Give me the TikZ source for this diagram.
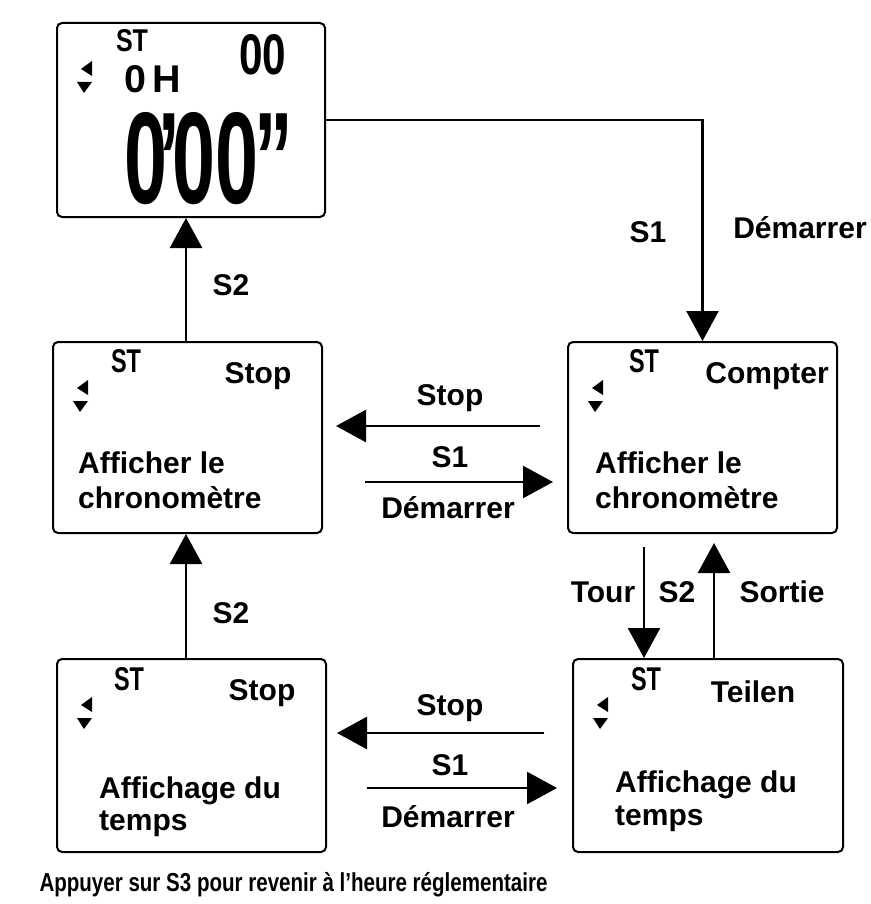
\documentclass[tikz,border=0pt]{standalone}
\usepackage{fontspec}
\setmainfont{Liberation Sans}
\usetikzlibrary{arrows.meta,calc}
\newcommand\lbfont{\fontsize{30}{34}\selectfont\bfseries}
\newcommand\drawicon[1]{%
  \fill ($(#1.north west)+(25,47)$) -- ++(11,-8) -- ++(0,15) -- cycle;
  \fill ($(#1.north west)+(21,60)$) -- ++(15,0) -- ++(-8,11) -- cycle;}
\tikzset{
  box/.style={draw, line width=2pt, rounded corners=5pt, inner sep=0pt},
  lbl/.style={font=\lbfont, inner sep=0pt, anchor=base},
  txt/.style={font=\lbfont, inner sep=0pt, anchor=base west},
  arr/.style={line width=2.5pt, -{Triangle[width=32pt,length=30pt]}},
  stsym/.style={inner sep=0pt, font=\bfseries},
}
\begin{document}
\begin{tikzpicture}[x=1pt,y=-1pt]
\useasboundingbox (0,0) rectangle (870,904);
% boxes
\node[box, minimum width=268pt, minimum height=194pt] (top) at (191,120) {};
\node[box, minimum width=269pt, minimum height=191pt] (ml) at (187.5,437.5) {};
\node[box, minimum width=269pt, minimum height=191pt] (mr) at (702.5,437.5) {};
\node[box, minimum width=269pt, minimum height=193pt] (bl) at (191.5,755.5) {};
\node[box, minimum width=270pt, minimum height=193pt] (br) at (708,755.5) {};
% icons
\drawicon{top}\drawicon{ml}\drawicon{mr}\drawicon{bl}\drawicon{br}
% ST symbols
\node[stsym] (st0) at ($(top.north west)+(76,19)$) {\resizebox{32pt}{22pt}{ST}};
\node[stsym] (st1) at ($(ml.north west)+(74,20)$) {\resizebox{30pt}{23pt}{ST}};
\node[stsym] (st2) at ($(mr.north west)+(77,20)$) {\resizebox{30pt}{23pt}{ST}};
\node[stsym] (st3) at ($(bl.north west)+(73,21)$) {\resizebox{30pt}{23pt}{ST}};
\node[stsym] (st4) at ($(br.north west)+(74,21)$) {\resizebox{30pt}{23pt}{ST}};
% top display
\node[stsym] (d00) at (263,55) {\resizebox{47pt}{40pt}{00}};
\node[stsym] (d0h) at (153,79) {\resizebox{57pt}{27pt}{0\,H}};
\node[stsym] (dbig) at (209,159) {\resizebox{168pt}{91pt}{0\kern-.12em'\kern-.1em00\kern-.05em"}};
% box texts
\node[lbl] (t1) at (258,383) {Stop};
\node[txt] (t1b) at (78,473) {\vtop{\baselineskip=35pt\hbox{Afficher le}\hbox{chronomètre}}};
\node[lbl] (t2) at (767,383) {Compter};
\node[txt] (t2b) at (595,473) {\vtop{\baselineskip=35pt\hbox{Afficher le}\hbox{chronomètre}}};
\node[lbl] (t3) at (262,700) {Stop};
\node[txt] (t3b) at (99,798) {\vtop{\baselineskip=32pt\hbox{Affichage du}\hbox{temps}}};
\node[lbl] (t4) at (753,702) {Teilen};
\node[txt] (t4b) at (615,792) {\vtop{\baselineskip=33pt\hbox{Affichage du}\hbox{temps}}};
% connectors
\coordinate (cL) at (186,0);
\draw[arr] (top.east) -| (mr.north);
\draw[arr] (ml.north -| cL) -- (top.south -| cL);
\draw[arr] (bl.north -| cL) -- (ml.south -| cL);
\coordinate (m1s) at (540,426); \coordinate (m1e) at (336,426);
\coordinate (m2s) at (365,482); \coordinate (m2e) at (553,482);
\draw[arr] (m1s) -- (m1e);
\draw[arr] (m2s) -- (m2e);
\coordinate (b1s) at (544,733); \coordinate (b1e) at (337,733);
\coordinate (b2s) at (367,788); \coordinate (b2e) at (557,788);
\draw[arr] (b1s) -- (b1e);
\draw[arr] (b2s) -- (b2e);
\coordinate (vd) at (644,0); \coordinate (vu) at (714,0);
\draw[arr] ($(mr.south -| vd)+(0,13)$) -- (br.north -| vd);
\draw[arr] (br.north -| vu) -- ($(mr.south -| vu)+(0,9)$);
% labels
\node[lbl] (l1) at (648,242) {S1};
\node[lbl] (l2) at (800,238) {Démarrer};
\node[lbl] (l3) at (231,295) {S2};
\node[lbl] (l4) at (450,405) {Stop};
\node[lbl] (l5) at (450,467) {S1};
\node[lbl] (l6) at (448,518) {Démarrer};
\node[lbl] (l7) at (603,602) {Tour};
\node[lbl] (l8) at (677,602) {S2};
\node[lbl] (l9) at (782,602) {Sortie};
\node[lbl] (l10) at (231,623) {S2};
\node[lbl] (l11) at (450,715) {Stop};
\node[lbl] (l12) at (450,775) {S1};
\node[lbl] (l13) at (448,827) {Démarrer};
\node[inner sep=0pt, anchor=base] (foot) at (293.5,891) {\scalebox{0.79}[1]{\fontsize{26}{30}\selectfont\bfseries Appuyer sur S3 pour revenir à l'heure réglementaire}};
\end{tikzpicture}
\end{document}
